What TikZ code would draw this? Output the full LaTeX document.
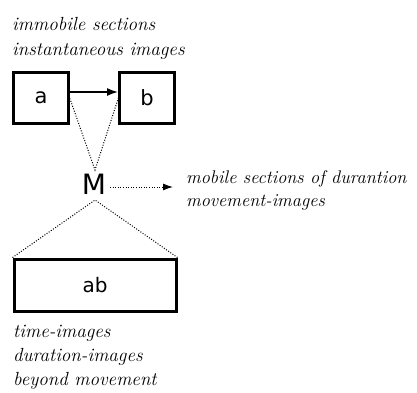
\documentclass[tikz,border=0pt]{standalone}
\usepackage{fontspec}
\setmainfont{Latin Modern Roman}
\newfontfamily\boxfont{DejaVu Sans}
\usetikzlibrary{arrows.meta}
\tikzset{
  bx/.style={draw=black, line width=3pt, inner sep=0pt, font=\boxfont\fontsize{21}{24}\selectfont},
  lbl/.style={anchor=base west, inner sep=0pt, font=\itshape\fontsize{19}{23}\selectfont},
  dots/.style={line width=1pt, dash pattern=on 1pt off 1.6pt},
  arr/.style={-{Latex[length=11pt,width=8pt]}, line width=1.5pt},
}
\begin{document}
\begin{tikzpicture}[x=1pt,y=-1pt]
\useasboundingbox (0,0) rectangle (417,392);
\node[bx, minimum width=55, minimum height=51] (a) at (41,98) {a};
\node[bx, minimum width=55, minimum height=51] (b) at (147,98) {b};
\node[bx, minimum width=162, minimum height=52, font=\boxfont\fontsize{20}{24}\selectfont] (ab) at (95,285) {ab};
\node[inner sep=1pt, font=\boxfont\fontsize{28}{30}\selectfont] (M) at (94,184) {M};
\coordinate (aR) at (69,96);
\coordinate (bL) at (119,96);
\coordinate (Mt) at (95,170);
\coordinate (Mb) at (95,200);
\coordinate (Mr) at (110,187);
\coordinate (arrEnd) at (173,187);
\draw[arr] (a.east |- 0,92) -- (b.west |- 0,92);
\draw[dots] (aR) -- (Mt) -- (bL);
\draw[dots] (ab.north west) -- (Mb) -- (ab.north east);
\draw[dots, -{Latex[length=10pt,width=7pt]}] (Mr) -- (arrEnd);
\node[lbl] (t1) at (12,30) {immobile sections};
\node[lbl] (t2) at (12,55) {instantaneous images};
\node[lbl, font=\itshape\fontsize{18.3}{23}\selectfont] (t3) at (186,183) {mobile sections of durantion};
\node[lbl, font=\itshape\fontsize{18.3}{23}\selectfont] (t4) at (186,206) {movement-images};
\node[lbl] (t5) at (13,337) {time-images};
\node[lbl] (t6) at (13,361) {duration-images};
\node[lbl] (t7) at (13,385) {beyond movement};
\end{tikzpicture}
\end{document}
